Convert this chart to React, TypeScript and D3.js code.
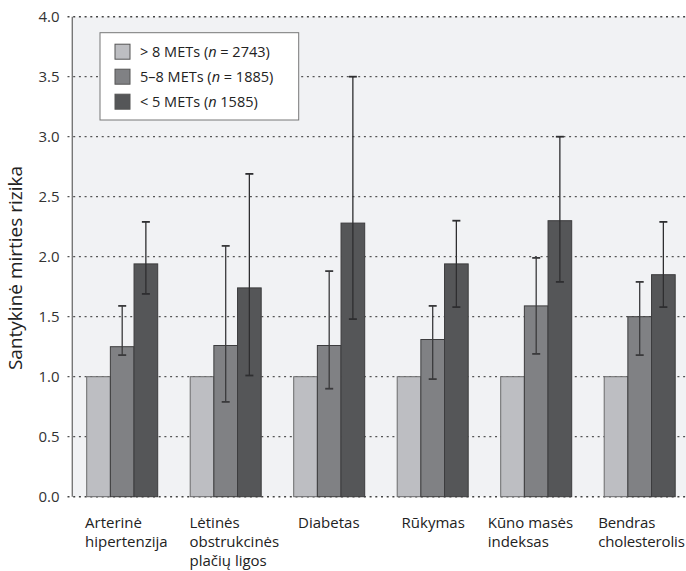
import React from "react";
import * as d3 from "d3";

const categories = [
  ["Arterinė", "hipertenzija"],
  ["Lėtinės", "obstrukcinės", "plačių ligos"],
  ["Diabetas"],
  ["Rūkymas"],
  ["Kūno masės", "indeksas"],
  ["Bendras", "cholesterolis"],
];
const seriesNames = ["> 8 METs", "5–8 METs", "< 5 METs"];
const seriesN = ["= 2743", "= 1885", "1585"];
const valuesHigh = [1.0, 1.0, 1.0, 1.0, 1.0, 1.0];
const valuesMid = [1.25, 1.26, 1.26, 1.31, 1.59, 1.5];
const valuesLow = [1.94, 1.74, 2.28, 1.94, 2.3, 1.85];
const ciMidLo = [1.18, 0.79, 0.9, 0.98, 1.19, 1.18];
const ciMidHi = [1.59, 2.09, 1.88, 1.59, 1.99, 1.79];
const ciLowLo = [1.69, 1.01, 1.48, 1.58, 1.79, 1.58];
const ciLowHi = [2.29, 2.69, 3.5, 2.3, 3.0, 2.29];
const yTicks = [0, 0.5, 1, 1.5, 2, 2.5, 3, 3.5, 4];

const colors = ["#bdbec2", "#808184", "#555658"];
const labelDx = [-1.7, -0.7, 4.4, 4.4, -13, -6];
const FONT = "'Open Sans', sans-serif";

export default function App() {
  const W = 686, H = 571;
  const plotL = 72.3, plotR = 686, plotT = 16.7, plotB = 496.7;
  const y = d3.scaleLinear().domain([0, 4]).range([plotB, plotT]);
  const keys = categories.map((c) => c.join(" "));
  const x0 = d3.scaleBand<string>().domain(keys).range([70.45, 691.45]).paddingInner(0.314).paddingOuter(0.157);
  const x1 = d3.scaleBand<number>().domain([0, 1, 2]).range([0, x0.bandwidth()]);
  const series = [valuesHigh, valuesMid, valuesLow];
  const cis: ([number[], number[]] | null)[] = [null, [ciMidLo, ciMidHi], [ciLowLo, ciLowHi]];
  const fmt = d3.format(".1f");

  return (
    <svg width={W} height={H} style={{ position: "absolute", left: 0, top: 0 }}>
      <rect x={plotL} y={plotT} width={plotR - plotL} height={plotB - plotT} fill="#f1f2f4" />
      {yTicks.map((t) => (
        <g key={t}>
          <line x1={67.5} x2={plotR} y1={y(t)} y2={y(t)} stroke={t === 0 || t === 4 ? "#444" : "#555"} strokeWidth={t === 0 || t === 4 ? 1.4 : 1.2} strokeDasharray="2,3.7" />
          <text x={59.5} y={y(t)} dy="0.36em" textAnchor="end" fontFamily={FONT} fontSize={15} fill="#333">{fmt(t)}</text>
        </g>
      ))}
      <line x1={plotL} x2={plotL} y1={plotT} y2={plotB} stroke="#777" strokeWidth={1.4} />
      {keys.map((k, i) => (
        <g key={k} transform={`translate(${x0(k)},0)`}>
          {series.map((s, j) => (
            <rect key={j} x={x1(j)} y={y(s[i])} width={x1.bandwidth()} height={plotB - y(s[i])} fill={colors[j]} stroke={j === 0 ? "#6a6a6c" : "#3c3c3e"} strokeWidth={1} />
          ))}
          {cis.map((ci, j) => {
            if (!ci) return null;
            const cx = (x1(j) as number) + x1.bandwidth() / 2;
            const lo = y(ci[0][i]), hi = y(ci[1][i]);
            const col = j === 2 ? "#2e2e30" : "#3a3a3c";
            return (
              <g key={j} stroke={col} strokeWidth={1.3}>
                <line x1={cx} x2={cx} y1={lo} y2={hi} />
                <line x1={cx - 4} x2={cx + 4} y1={lo} y2={lo} strokeWidth={1.8} />
                <line x1={cx - 4} x2={cx + 4} y1={hi} y2={hi} strokeWidth={1.8} />
              </g>
            );
          })}
          <text fontFamily={FONT} fontSize={15} fill="#222" letterSpacing={i === 5 ? -0.15 : 0}>
            {categories[i].map((line, li) => (
              <tspan key={li} x={labelDx[i]} y={528 + li * 19}>{line}</tspan>
            ))}
          </text>
        </g>
      ))}
      <g>
        <rect x={100} y={32.7} width={198.7} height={87.3} fill="#fff" stroke="#777" strokeWidth={1} />
        {seriesNames.map((nm, j) => (
          <g key={j} transform={`translate(115,${51.7 + j * 25})`}>
            <rect x={0} y={-7.5} width={15} height={15} fill={colors[j]} stroke="#555" strokeWidth={1} />
            <text x={25} y={0} dy="0.36em" fontFamily={FONT} fontSize={14.5} fill="#222">
              {nm} (<tspan fontStyle="italic">n</tspan> {seriesN[j]})
            </text>
          </g>
        ))}
      </g>
      <text transform={`translate(22,${268}) rotate(-90)`} textAnchor="middle" fontFamily={FONT} fontSize={19} fill="#222">
        Santykinė mirties rizika
      </text>
    </svg>
  );
}
